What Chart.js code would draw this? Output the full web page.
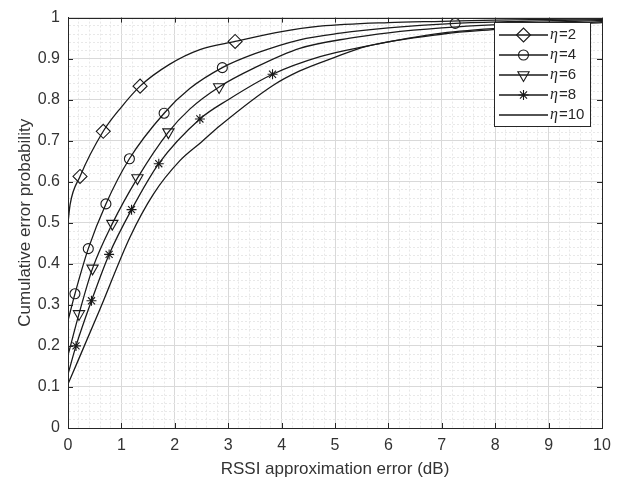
<!DOCTYPE html>
<html>
<head>
<meta charset="utf-8">
<script src="https://cdn.jsdelivr.net/npm/chart.js@4.4.1/dist/chart.umd.min.js"></script>
<style>
  html, body { margin: 0; padding: 0; background: #fff; }
  #wrap { width: 623px; height: 483px; }
</style>
</head>
<body>
<div id="wrap"><canvas id="cdfChart" width="623" height="483"></canvas></div>
<script>
// values (x = RSSI error in dB, y = cumulative probability)
const eta2X = [0, 0.04, 0.225, 0.66, 1.0, 1.35, 1.9, 2.47, 3.13, 4.0, 4.72, 6.0, 7.0, 8.0, 10];
const eta2Y = [0.50, 0.545, 0.613, 0.723, 0.782, 0.833, 0.886, 0.922, 0.942, 0.966, 0.979, 0.988, 0.991, 0.994, 0.997];
const eta2MarkX = [0.225, 0.66, 1.35, 3.13];
const eta2MarkY = [0.613, 0.723, 0.833, 0.942];

const eta4X = [0, 0.13, 0.38, 0.71, 1.15, 1.80, 2.28, 2.89, 3.5, 4.34, 5.1, 6.0, 7.25, 8.5, 10];
const eta4Y = [0.262, 0.327, 0.437, 0.546, 0.656, 0.767, 0.827, 0.878, 0.912, 0.946, 0.962, 0.975, 0.986, 0.991, 0.995];
const eta4MarkX = [0.13, 0.38, 0.71, 1.15, 1.80, 2.89, 7.25];
const eta4MarkY = [0.327, 0.437, 0.546, 0.656, 0.767, 0.878, 0.986];

const eta6X = [0, 0.206, 0.46, 0.83, 1.30, 1.88, 2.28, 2.83, 3.5, 4.34, 5.28, 6.0, 7.0, 8.5, 10];
const eta6Y = [0.177, 0.278, 0.389, 0.498, 0.609, 0.721, 0.777, 0.831, 0.878, 0.925, 0.950, 0.963, 0.975, 0.986, 0.993];
const eta6MarkX = [0.206, 0.46, 0.83, 1.30, 1.88, 2.83];
const eta6MarkY = [0.278, 0.389, 0.498, 0.609, 0.721, 0.831];

const eta8X = [0, 0.15, 0.44, 0.77, 1.19, 1.70, 2.47, 3.0, 3.83, 4.72, 5.5, 7.0, 8.5, 10];
const eta8Y = [0.131, 0.20, 0.31, 0.423, 0.532, 0.644, 0.753, 0.80, 0.862, 0.905, 0.928, 0.962, 0.978, 0.99];
const eta8MarkX = [0.15, 0.44, 0.77, 1.19, 1.70, 2.47, 3.83];
const eta8MarkY = [0.20, 0.31, 0.423, 0.532, 0.644, 0.753, 0.862];

const eta10X = [0, 0.6, 1.16, 1.6, 2.1, 2.5, 2.85, 3.83, 4.34, 4.97, 5.59, 7.02, 8.09, 9.03, 10];
const eta10Y = [0.107, 0.29, 0.465, 0.57, 0.652, 0.697, 0.737, 0.834, 0.870, 0.902, 0.93, 0.96, 0.972, 0.982, 0.988];

const etaNames = ['2', '4', '6', '8', '10'];
const xTickLabels = ['0', '1', '2', '3', '4', '5', '6', '7', '8', '9', '10'];
const yTickLabels = ['0', '0.1', '0.2', '0.3', '0.4', '0.5', '0.6', '0.7', '0.8', '0.9', '1'];

const FONT = '"Liberation Sans", Arial, sans-serif';
const INK = '#1a1a1a';

const series = [
  { name: etaNames[0], x: eta2X, y: eta2Y, mx: eta2MarkX, my: eta2MarkY, style: 'rectRot', radius: 7, rot: 0 },
  { name: etaNames[1], x: eta4X, y: eta4Y, mx: eta4MarkX, my: eta4MarkY, style: 'circle', radius: 5, rot: 0 },
  { name: etaNames[2], x: eta6X, y: eta6Y, mx: eta6MarkX, my: eta6MarkY, style: 'triangle', radius: 6.5, rot: 180 },
  { name: etaNames[3], x: eta8X, y: eta8Y, mx: eta8MarkX, my: eta8MarkY, style: 'star', radius: 5, rot: 0 },
  { name: etaNames[4], x: eta10X, y: eta10Y, mx: [], my: [], style: null, radius: 0, rot: 0 }
];

const pts = (xs, ys) => xs.map((x, i) => ({ x: x, y: ys[i] }));

const datasets = [];
series.forEach(s => {
  datasets.push({
    label: 'η=' + s.name,
    data: pts(s.x, s.y),
    borderColor: INK,
    borderWidth: 1.3,
    pointRadius: 0,
    cubicInterpolationMode: 'monotone',
    fill: false
  });
  if (s.style) {
    datasets.push({
      label: 'η=' + s.name + ' markers',
      data: pts(s.mx, s.my),
      showLine: false,
      pointStyle: s.style,
      rotation: s.rot,
      pointRadius: s.radius,
      pointBorderWidth: 1.1,
      pointBorderColor: INK,
      pointBackgroundColor: 'rgba(0,0,0,0)'
    });
  }
});

// major grid where a labelled tick sits, minor dotted grid in between
const isWhole = (v, step) => Math.abs(v / step - Math.round(v / step)) < 1e-6;
const xMajor = ctx => ctx.tick && isWhole(ctx.tick.value, 1);
const yMajor = ctx => ctx.tick && isWhole(ctx.tick.value, 0.1);

function fineTicks(lo, hi, step) {
  const out = [];
  const n = Math.round((hi - lo) / step);
  for (let i = 0; i <= n; i++) out.push({ value: +(lo + i * step).toFixed(4) });
  return out;
}

// box outline, inward tick marks, legend inside the axes
const matlabFrame = {
  id: 'matlabFrame',
  afterDraw(chart) {
    const { ctx, chartArea: a, scales: { x, y } } = chart;
    ctx.save();
    ctx.strokeStyle = '#262626';
    ctx.lineWidth = 1;
    ctx.beginPath();
    xTickLabels.forEach((t, i) => {
      const px = Math.round(x.getPixelForValue(i)) + 0.5;
      ctx.moveTo(px, a.bottom); ctx.lineTo(px, a.bottom - 5);
      ctx.moveTo(px, a.top); ctx.lineTo(px, a.top + 5);
    });
    yTickLabels.forEach((t, i) => {
      const py = Math.round(y.getPixelForValue(i / 10)) + 0.5;
      ctx.moveTo(a.left, py); ctx.lineTo(a.left + 5, py);
      ctx.moveTo(a.right, py); ctx.lineTo(a.right - 5, py);
    });
    ctx.stroke();
    ctx.strokeRect(Math.round(a.left) + 0.5, Math.round(a.top) + 0.5,
      Math.round(a.right - a.left), Math.round(a.bottom - a.top));

    // legend
    const L = { left: 494, top: 22, w: 96, h: 104, row: 20, first: 13 };
    ctx.fillStyle = '#fff';
    ctx.fillRect(L.left, L.top, L.w, L.h);
    ctx.strokeStyle = '#262626';
    ctx.strokeRect(L.left + 0.5, L.top + 0.5, L.w, L.h);
    series.forEach((s, i) => {
      const cy = L.top + L.first + i * L.row;
      ctx.strokeStyle = INK;
      ctx.lineWidth = 1.3;
      ctx.beginPath();
      ctx.moveTo(L.left + 5, cy); ctx.lineTo(L.left + 54, cy);
      ctx.stroke();
      if (s.style) {
        ctx.fillStyle = 'rgba(0,0,0,0)';
        ctx.lineWidth = 1.1;
        Chart.helpers.drawPoint(ctx, { pointStyle: s.style, rotation: s.rot, radius: s.radius, borderWidth: 1.1 },
          L.left + 29.5, cy);
      }
      ctx.fillStyle = '#262626';
      ctx.textBaseline = 'middle';
      ctx.font = 'italic 16px "Liberation Serif", "DejaVu Serif", serif';
      ctx.fillText('η', L.left + 56, cy);
      const w = ctx.measureText('η').width;
      ctx.font = '15px ' + FONT;
      ctx.fillText('=' + s.name, L.left + 56 + w + 1, cy);
    });
    ctx.restore();
  }
};

new Chart(document.getElementById('cdfChart'), {
  type: 'line',
  data: { datasets: datasets },
  plugins: [matlabFrame],
  options: {
    responsive: false,
    animation: false,
    layout: { padding: { top: 9, right: 21, left: 0, bottom: 0 } },
    plugins: { legend: { display: false }, tooltip: { enabled: false } },
    scales: {
      x: {
        type: 'linear',
        min: 0,
        max: 10,
        afterBuildTicks: s => { s.ticks = fineTicks(0, 10, 0.2); },
        afterFit: s => { s.height = 55; },
        ticks: {
          autoSkip: false,
          maxRotation: 0,
          padding: 8,
          color: '#333',
          font: { family: FONT, size: 16 },
          callback: v => isWhole(v, 1) ? xTickLabels[Math.round(v)] : ''
        },
        grid: {
          drawTicks: false,
          color: ctx => xMajor(ctx) ? '#d9d9d9' : '#e8e8e8',
          lineWidth: 1
        },
        border: { color: '#262626', dash: ctx => xMajor(ctx) ? [] : [2, 2] },
        title: {
          display: true,
          text: 'RSSI approximation error (dB)',
          color: '#333',
          font: { family: FONT, size: 17 },
          padding: { top: 0, bottom: 3 }
        }
      },
      y: {
        type: 'linear',
        min: 0,
        max: 1,
        afterBuildTicks: s => { s.ticks = fineTicks(0, 1, 0.02); },
        afterFit: s => { s.width = 68; },
        ticks: {
          autoSkip: false,
          padding: 8,
          color: '#333',
          font: { family: FONT, size: 16 },
          callback: v => isWhole(v, 0.1) ? yTickLabels[Math.round(v * 10)] : ''
        },
        grid: {
          drawTicks: false,
          color: ctx => yMajor(ctx) ? '#d9d9d9' : '#e8e8e8',
          lineWidth: 1
        },
        border: { color: '#262626', dash: ctx => yMajor(ctx) ? [] : [2, 2] },
        title: {
          display: true,
          text: 'Cumulative error probability',
          color: '#333',
          font: { family: FONT, size: 17 },
          padding: { top: 15, bottom: 0 }
        }
      }
    }
  }
});
</script>
</body>
</html>
